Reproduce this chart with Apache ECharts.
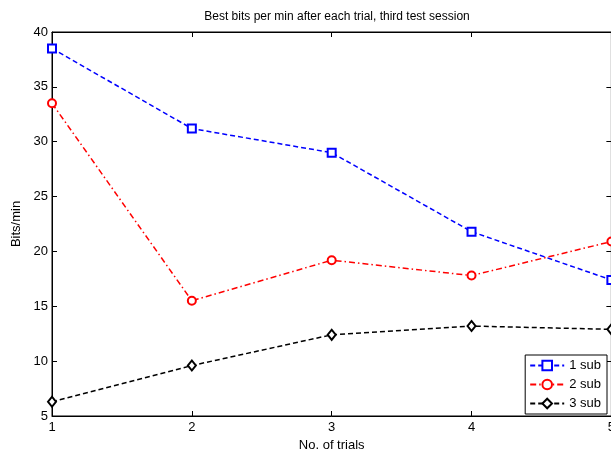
<!DOCTYPE html>
<html>
<head>
<meta charset="utf-8">
<script src="https://cdn.jsdelivr.net/npm/echarts@6/dist/echarts.min.js"></script>
<style>
  html, body { margin: 0; padding: 0; background: #fff; overflow: hidden; }
  /* a few px wider than the window so the right edge of the box is cut off, as in the source */
  #chart { width: 618px; height: 457px; }
</style>
</head>
<body>
<div id="chart"></div>
<script>
// trials on the x axis
var trials = [1, 2, 3, 4, 5];
var sub1 = [38.5, 31.2, 29.0, 21.8, 17.4];
var sub2 = [33.5, 15.5, 19.2, 17.8, 20.9];
var sub3 = [6.3, 9.6, 12.4, 13.2, 12.9];
var seriesNames = ['1 sub', '2 sub', '3 sub'];

function pairs(vals) {
  return trials.map(function (t, i) { return [t, vals[i]]; });
}

var font = 'Liberation Sans, Arial, sans-serif';

var option = {
  animation: false,
  backgroundColor: '#fff',
  title: {
    text: 'Best bits per min after each trial, third test session',
    left: 332,
    textAlign: 'center',
    top: 6,
    textStyle: { fontFamily: font, fontSize: 12, fontWeight: 'normal', color: '#000' }
  },
  legend: {
    orient: 'vertical',
    right: 11,
    bottom: 43,
    data: seriesNames,
    backgroundColor: '#fff',
    borderColor: '#000',
    borderWidth: 1,
    borderRadius: 0,
    padding: [4, 6, 4, 4],
    itemWidth: 34,
    itemHeight: 12,
    itemGap: 6,
    textStyle: { fontFamily: font, fontSize: 13, color: '#000' }
  },
  grid: { left: 52, right: 6, top: 32, bottom: 37, show: true, borderColor: '#000', borderWidth: 1 },
  xAxis: [{
    type: 'value',
    min: 1, max: 5, interval: 1,
    name: 'No. of trials',
    nameLocation: 'middle',
    nameGap: 23,
    nameTextStyle: { fontFamily: font, fontSize: 13, color: '#000' },
    axisLine: { show: true, lineStyle: { color: '#000' } },
    axisTick: { inside: true, length: 5, lineStyle: { color: '#000' } },
    axisLabel: { fontFamily: font, fontSize: 13, color: '#000', margin: 5 },
    splitLine: { show: false }
  }, {
    type: 'value',
    position: 'top',
    min: 1, max: 5, interval: 1,
    axisLine: { show: true, lineStyle: { color: '#000' } },
    axisTick: { inside: true, length: 5, lineStyle: { color: '#000' } },
    axisLabel: { show: false },
    splitLine: { show: false }
  }],
  yAxis: [{
    type: 'value',
    min: 5, max: 40, interval: 5,
    name: 'Bits/min',
    nameLocation: 'middle',
    nameGap: 27,
    nameTextStyle: { fontFamily: font, fontSize: 13, color: '#000' },
    axisLine: { show: true, lineStyle: { color: '#000' } },
    axisTick: { inside: true, length: 5, lineStyle: { color: '#000' } },
    axisLabel: { fontFamily: font, fontSize: 13, color: '#000', margin: 4 },
    splitLine: { show: false }
  }, {
    type: 'value',
    position: 'right',
    min: 5, max: 40, interval: 5,
    axisLine: { show: true, lineStyle: { color: '#000' } },
    axisTick: { inside: true, length: 5, lineStyle: { color: '#000' } },
    axisLabel: { show: false },
    splitLine: { show: false }
  }],
  series: [
    {
      name: seriesNames[0],
      type: 'line',
      data: pairs(sub1),
      symbol: 'emptyRect',
      symbolSize: 8,
      color: '#0000ff',
      lineStyle: { color: '#0000ff', width: 1.5, type: [5, 3] },
      itemStyle: { color: '#0000ff', borderColor: '#0000ff', borderWidth: 1.5 }
    },
    {
      name: seriesNames[1],
      type: 'line',
      data: pairs(sub2),
      symbol: 'emptyCircle',
      symbolSize: 8,
      color: '#ff0000',
      lineStyle: { color: '#ff0000', width: 1.5, type: [6, 3, 1.5, 3] },
      itemStyle: { color: '#ff0000', borderColor: '#ff0000', borderWidth: 1.5 }
    },
    {
      name: seriesNames[2],
      type: 'line',
      data: pairs(sub3),
      symbol: 'emptyDiamond',
      symbolSize: [8, 10],
      color: '#000000',
      lineStyle: { color: '#000000', width: 1.5, type: [5, 3] },
      itemStyle: { color: '#000000', borderColor: '#000000', borderWidth: 1.5 }
    }
  ]
};

var chart = echarts.init(document.getElementById('chart'));
chart.setOption(option);
</script>
</body>
</html>
